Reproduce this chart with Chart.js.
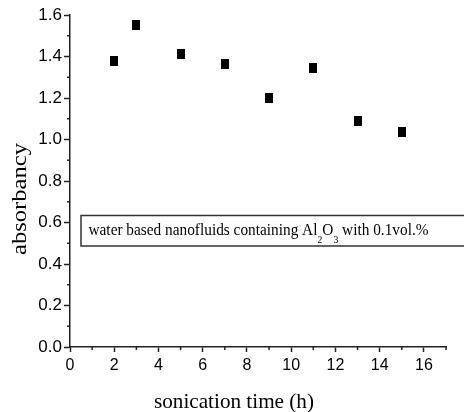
<!DOCTYPE html>
<html><head><meta charset="utf-8">
<script src="https://cdn.jsdelivr.net/npm/chart.js@4/dist/chart.umd.min.js"></script>
<style>html,body{margin:0;padding:0;background:#fff;}#wrap{width:464px;height:412px;position:relative;}</style>
</head><body><div id="wrap"><canvas id="c" width="464" height="412"></canvas></div>
<script>
// ---- data ----
const sonicationTime = [2, 3, 5, 7, 9, 11, 13, 15];
const absorbancy = [1.376, 1.552, 1.410, 1.362, 1.199, 1.344, 1.089, 1.038];
const xMinorTicks = [1, 3, 5, 7, 9, 11, 13, 15, 17];
const yMinorTicks = [0.1, 0.3, 0.5, 0.7, 0.9, 1.1, 1.3, 1.5];
const xAxisTitle = 'sonication time (h)';
const yAxisTitle = 'absorbancy';
const noteParts = [
  {t: 'water based nanofluids containing Al', sub: false},
  {t: '2', sub: true},
  {t: 'O', sub: false},
  {t: '3', sub: true},
  {t: ' with 0.1vol.%', sub: false}
];

// marker: slightly tall black rectangle
const marker = document.createElement('canvas');
marker.width = 8; marker.height = 10;
(function(){ const m = marker.getContext('2d'); m.fillStyle = '#000'; m.fillRect(0,0,8,10); })();

const AXIS = '#222';
const serif = '"Liberation Serif", "Times New Roman", serif';

function drawFitted(ctx, text, font, x, y, width, rotate) {
  ctx.save();
  ctx.font = font;
  const w = ctx.measureText(text).width;
  ctx.translate(x, y);
  if (rotate) ctx.rotate(-Math.PI / 2);
  ctx.scale(width / w, 1);
  ctx.textAlign = 'center';
  ctx.textBaseline = 'alphabetic';
  ctx.fillStyle = '#000';
  ctx.fillText(text, 0, 0);
  ctx.restore();
}

const decor = {
  id: 'decor',
  afterDraw(chart) {
    const ctx = chart.ctx;
    const xs = chart.scales.x, ys = chart.scales.y;
    const area = chart.chartArea;
    ctx.save();
    ctx.strokeStyle = AXIS;
    ctx.lineWidth = 1.5;
    // minor ticks
    xMinorTicks.forEach(v => {
      const px = xs.getPixelForValue(v);
      ctx.beginPath(); ctx.moveTo(px, area.bottom); ctx.lineTo(px, area.bottom + 3); ctx.stroke();
    });
    yMinorTicks.forEach(v => {
      const py = ys.getPixelForValue(v);
      ctx.beginPath(); ctx.moveTo(area.left - 3, py); ctx.lineTo(area.left, py); ctx.stroke();
    });
    ctx.restore();

    // axis titles
    drawFitted(ctx, xAxisTitle, '22px ' + serif, 234, 408, 160, false);
    drawFitted(ctx, yAxisTitle, '22px ' + serif, 26, 199, 112, true);

    // note box
    ctx.save();
    ctx.strokeStyle = '#333';
    ctx.lineWidth = 1.5;
    ctx.strokeRect(81, 215.5, 400, 30.5);
    const mainFont = '16.5px ' + serif, subFont = '10.5px ' + serif;
    let total = 0;
    noteParts.forEach(p => { ctx.font = p.sub ? subFont : mainFont; p.w = ctx.measureText(p.t).width; total += p.w; });
    const sx = 340 / total;
    ctx.translate(88.5, 234.5);
    ctx.scale(sx, 1);
    ctx.fillStyle = '#000';
    ctx.textBaseline = 'alphabetic';
    ctx.textAlign = 'left';
    let cx = 0;
    noteParts.forEach(p => {
      ctx.font = p.sub ? subFont : mainFont;
      ctx.fillText(p.t, cx, p.sub ? 8 : 0);
      cx += p.w;
    });
    ctx.restore();
  }
};

new Chart(document.getElementById('c'), {
  type: 'scatter',
  data: {
    datasets: [{
      data: sonicationTime.map((t, i) => ({x: t, y: absorbancy[i]})),
      pointStyle: marker,
      backgroundColor: '#000',
      borderColor: '#000',
      showLine: false
    }]
  },
  options: {
    responsive: false,
    animation: false,
    devicePixelRatio: 1,
    layout: {padding: {left: 0, right: 18, top: 15, bottom: 0}},
    plugins: {legend: {display: false}, tooltip: {enabled: false}},
    scales: {
      x: {
        type: 'linear', position: 'bottom', min: 0, max: 17,
        afterFit(s) { s.height = 65; },
        ticks: {stepSize: 2, includeBounds: false, color: '#000', padding: 4,
          font: {family: '"Liberation Sans", Arial, sans-serif', size: 16},
          callback: v => String(v), maxRotation: 0, autoSkip: false},
        grid: {drawOnChartArea: false, drawTicks: true, tickLength: 5, tickColor: AXIS, tickWidth: 1.5},
        border: {display: true, color: AXIS, width: 1.5}
      },
      y: {
        type: 'linear', position: 'left', min: 0, max: 1.6,
        afterFit(s) { s.width = 70; },
        ticks: {stepSize: 0.2, includeBounds: false, color: '#000', padding: 2,
          font: {family: '"Liberation Sans", Arial, sans-serif', size: 17},
          callback: v => v.toFixed(1), autoSkip: false},
        grid: {drawOnChartArea: false, drawTicks: true, tickLength: 6, tickColor: AXIS, tickWidth: 1.5},
        border: {display: true, color: AXIS, width: 1.5}
      }
    }
  },
  plugins: [decor]
});
</script></body></html>
